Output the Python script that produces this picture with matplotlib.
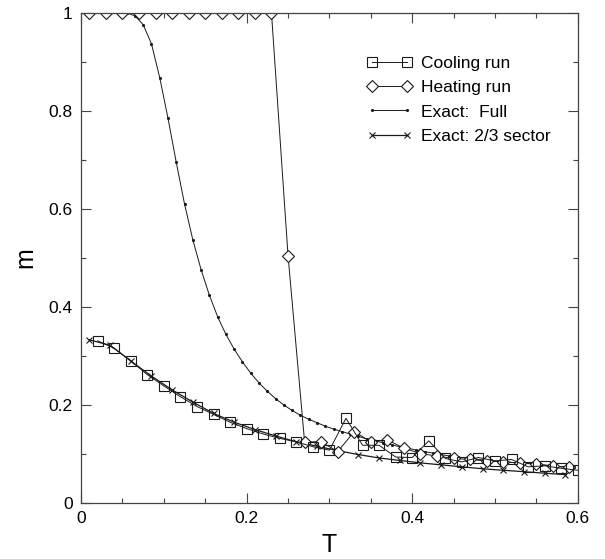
import matplotlib
matplotlib.use("Agg")
import matplotlib.pyplot as plt
from matplotlib.ticker import MultipleLocator

# Cooling run (squares)
coolT = [0.02, 0.04, 0.06, 0.08, 0.10, 0.12, 0.14, 0.16, 0.18, 0.20,
         0.22, 0.24, 0.26, 0.28, 0.30, 0.32, 0.34, 0.36, 0.38, 0.40,
         0.42, 0.44, 0.46, 0.48, 0.50, 0.52, 0.54, 0.56, 0.58, 0.60]
coolM = [0.331, 0.316, 0.290, 0.262, 0.239, 0.217, 0.197, 0.181, 0.165, 0.152,
         0.141, 0.132, 0.125, 0.115, 0.108, 0.173, 0.118, 0.118, 0.094, 0.093,
         0.127, 0.091, 0.084, 0.093, 0.086, 0.089, 0.074, 0.076, 0.071, 0.067]

# Heating run (diamonds)
heatT = [0.01, 0.03, 0.05, 0.07, 0.09, 0.11, 0.13, 0.15, 0.17, 0.19,
         0.21, 0.23, 0.25, 0.27, 0.29, 0.31, 0.33, 0.35, 0.37, 0.39,
         0.41, 0.43, 0.45, 0.47, 0.49, 0.51, 0.53, 0.55, 0.57, 0.59]
heatM = [1.0, 1.0, 1.0, 1.0, 1.0, 1.0, 1.0, 1.0, 1.0, 1.0,
         1.0, 1.0, 0.505, 0.125, 0.125, 0.105, 0.146, 0.125, 0.129, 0.112,
         0.101, 0.096, 0.091, 0.089, 0.086, 0.084, 0.082, 0.080, 0.075, 0.073]

# Exact: Full (small dots)
fullT = [0.045, 0.055, 0.065, 0.075, 0.085, 0.095, 0.105, 0.115, 0.125, 0.135,
         0.145, 0.155, 0.165, 0.175, 0.185, 0.195, 0.205, 0.215, 0.225, 0.235,
         0.245, 0.255, 0.265, 0.275, 0.285, 0.295, 0.305, 0.315, 0.325, 0.335,
         0.345, 0.355, 0.365, 0.375, 0.385, 0.395, 0.405, 0.415, 0.425, 0.435,
         0.445, 0.455, 0.465, 0.475, 0.485, 0.495, 0.505, 0.515, 0.525, 0.535,
         0.545, 0.555, 0.565, 0.575, 0.585, 0.595]
fullM = [1.0, 1.0, 0.994, 0.976, 0.937, 0.868, 0.785, 0.695, 0.610, 0.537,
         0.476, 0.424, 0.380, 0.344, 0.314, 0.288, 0.265, 0.245, 0.228, 0.213,
         0.200, 0.189, 0.179, 0.171, 0.164, 0.157, 0.151, 0.146, 0.141, 0.136,
         0.131, 0.127, 0.123, 0.119, 0.115, 0.112, 0.108, 0.105, 0.102, 0.099,
         0.096, 0.094, 0.092, 0.090, 0.088, 0.087, 0.085, 0.084, 0.082, 0.081,
         0.080, 0.078, 0.077, 0.075, 0.074, 0.073]

# Exact: 2/3 sector (crosses)
sectT = [0.01, 0.035, 0.06, 0.085, 0.11, 0.135, 0.16, 0.185, 0.21, 0.235,
         0.26, 0.285, 0.31, 0.335, 0.36, 0.385, 0.41, 0.435, 0.46, 0.485,
         0.51, 0.535, 0.56, 0.585]
sectM = [0.333, 0.322, 0.290, 0.259, 0.231, 0.206, 0.183, 0.165, 0.150, 0.137,
         0.125, 0.116, 0.107, 0.099, 0.092, 0.087, 0.082, 0.078, 0.074, 0.070,
         0.067, 0.064, 0.061, 0.058]

xticks = [0, 0.2, 0.4, 0.6]
xticklabels = ["0", "0.2", "0.4", "0.6"]
yticks = [0, 0.2, 0.4, 0.6, 0.8, 1.0]
yticklabels = ["0", "0.2", "0.4", "0.6", "0.8", "1"]

plt.rcParams['font.family'] = ['Liberation Sans', 'DejaVu Sans']

fig = plt.figure(figsize=(6.05, 5.59), dpi=100)
ax = fig.add_axes([0.134, 0.100, 0.821, 0.877])

lc = "#1a1a1a"
ax.plot(sectT, sectM, color=lc, lw=0.9, marker="x", ms=4.5, mew=0.8,
        label="Exact: 2/3 sector")
ax.plot(fullT, fullM, color=lc, lw=0.7, marker=".", ms=2.5,
        label="Exact:  Full")
ax.plot(heatT, heatM, color=lc, lw=0.7, marker="D", ms=6.5, mfc="white",
        mec=lc, mew=0.8, label="Heating run")
ax.plot(coolT, coolM, color=lc, lw=0.7, marker="s", ms=6.5, mfc="none",
        mec=lc, mew=0.8, label="Cooling run")

ax.set_xlim(0, 0.6)
ax.set_ylim(0, 1)
ax.set_xticks(xticks)
ax.set_xticklabels(xticklabels)
ax.set_yticks(yticks)
ax.set_yticklabels(yticklabels)
ax.xaxis.set_minor_locator(MultipleLocator(0.05))
ax.yaxis.set_minor_locator(MultipleLocator(0.1))
ax.tick_params(which="both", direction="in", top=True, right=True,
               labelsize=12.5, color="#444444")
ax.tick_params(which="major", length=7, width=0.8, pad=6)
ax.tick_params(which="minor", length=3.5, width=0.8)
for s in ax.spines.values():
    s.set_linewidth(0.9)
    s.set_color("#444444")

ax.set_xlabel("T", fontsize=18, labelpad=5)
ax.set_ylabel("m", fontsize=18, labelpad=8)

handles, labels = ax.get_legend_handles_labels()
order = [3, 2, 1, 0]
ax.legend([handles[i] for i in order], [labels[i] for i in order],
          loc="upper left", bbox_to_anchor=(0.575, 0.912), frameon=False,
          fontsize=12.5, numpoints=2, handlelength=2.6, handletextpad=0.55,
          labelspacing=0.52, borderaxespad=0, borderpad=0)

plt.savefig("out.png", dpi=100)
